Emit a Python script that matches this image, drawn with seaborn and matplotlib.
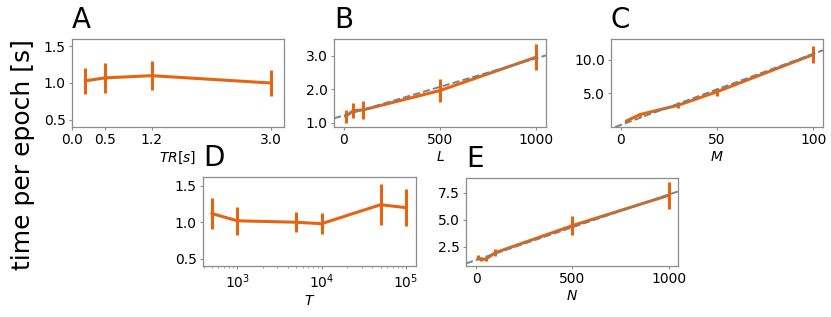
import numpy as np
import matplotlib
matplotlib.use('Agg')
import matplotlib.pyplot as plt
import seaborn as sns
from matplotlib.ticker import FormatStrFormatter

# Panel A: TR[s]
tr_x = [0.2, 0.5, 1.2, 3.0]
tr_y = [1.03, 1.07, 1.10, 1.00]
tr_err = [0.18, 0.20, 0.20, 0.18]

# Panel B: L
l_x = [10, 50, 100, 500, 1000]
l_y = [1.18, 1.36, 1.38, 1.96, 2.96]
l_err = [0.20, 0.22, 0.28, 0.33, 0.40]
l_fit = (1.215, 0.00171)  # intercept, slope

# Panel C: M
m_x = [3, 10, 30, 50, 100]
m_y = [0.9, 1.85, 3.25, 5.25, 10.8]
m_err = [0.1, 0.3, 0.4, 0.6, 1.3]
m_fit = (0.3, 0.106)

# Panel D: T
t_x = [500, 1000, 5000, 10000, 50000, 100000]
t_y = [1.12, 1.02, 1.00, 0.98, 1.24, 1.20]
t_err = [0.21, 0.19, 0.14, 0.14, 0.28, 0.25]

# Panel E: N
n_x = [10, 25, 50, 100, 500, 1000]
n_y = [1.50, 1.35, 1.35, 1.95, 4.45, 7.25]
n_err = [0.20, 0.15, 0.15, 0.35, 0.90, 1.27]
n_fit = (1.27, 0.00605)

orange = '#e6640f'

sns.set_style('white')
plt.rcParams['font.family'] = ['DejaVu Sans']
plt.rcParams['text.color'] = 'black'
plt.rcParams['axes.labelcolor'] = 'black'
plt.rcParams['axes.edgecolor'] = '0.55'
plt.rcParams['xtick.color'] = '0.55'
plt.rcParams['ytick.color'] = '0.55'
plt.rcParams['xtick.labelcolor'] = 'black'
plt.rcParams['ytick.labelcolor'] = 'black'
plt.rcParams['xtick.bottom'] = True
plt.rcParams['ytick.left'] = True

fig = plt.figure(figsize=(8.31, 3.17), dpi=100)
W, H = 831, 317


def make_ax(left, right, top, bottom):
    return fig.add_axes([left / W, 1 - bottom / H, (right - left) / W, (bottom - top) / H])


def draw(ax, x, y, err, letter, xlabel, fit=None):
    if fit is not None:
        ax.axline((0, fit[0]), slope=fit[1], color='gray', ls='--', lw=1.4, zorder=3)
    sns.lineplot(x=x, y=y, ax=ax, color=orange, lw=2.2, zorder=2)
    ax.errorbar(x, y, yerr=err, fmt='none', ecolor=orange, elinewidth=2.2, capsize=0, zorder=2)
    ax.text(0.0, 1.12, letter, transform=ax.transAxes, fontsize=20, ha='left', va='baseline')
    ax.set_xlabel(xlabel, fontsize=10, labelpad=2)
    ax.tick_params(axis='both', which='major', labelsize=10, length=2.5, width=0.8, pad=2)
    ax.tick_params(axis='both', which='minor', length=1.5, width=0.6)
    ax.yaxis.set_major_formatter(FormatStrFormatter('%.1f'))
    for s in ax.spines.values():
        s.set_linewidth(0.9)


axA = make_ax(72, 284, 39, 127)
draw(axA, tr_x, tr_y, tr_err, 'A', '$TR[s]$')
axA.set_xlim(0, 3.2)
axA.set_ylim(0.4, 1.6)
axA.set_xticks([0.0, 0.5, 1.2, 3.0])
axA.xaxis.set_major_formatter(FormatStrFormatter('%.1f'))
axA.set_yticks([0.5, 1.0, 1.5])

axB = make_ax(334, 546, 39, 127)
draw(axB, l_x, l_y, l_err, 'B', '$L$', l_fit)
axB.set_xlim(-50, 1050)
axB.set_ylim(0.87, 3.5)
axB.set_xticks([0, 500, 1000])
axB.set_yticks([1.0, 2.0, 3.0])

axC = make_ax(611, 823, 39, 127)
draw(axC, m_x, m_y, m_err, 'C', '$M$', m_fit)
axC.set_xlim(-5, 105)
axC.set_ylim(0.0, 13.1)
axC.set_xticks([0, 50, 100])
axC.set_yticks([5.0, 10.0])

axD = make_ax(203, 416, 177, 266)
draw(axD, t_x, t_y, t_err, 'D', '$T$')
axD.set_xscale('log')
axD.set_xlim(394, 131500)
axD.set_ylim(0.4, 1.62)
axD.set_yticks([0.5, 1.0, 1.5])

axE = make_ax(466, 678, 178, 266)
draw(axE, n_x, n_y, n_err, 'E', '$N$', n_fit)
axE.set_xlim(-52, 1048)
axE.set_ylim(0.72, 8.85)
axE.set_xticks([0, 500, 1000])
axE.set_yticks([2.5, 5.0, 7.5])

fig.text(23 / W, 1 - 155 / H, 'time per epoch [s]', rotation=90, fontsize=18,
         ha='center', va='center')

fig.savefig('out.png', dpi=100)
